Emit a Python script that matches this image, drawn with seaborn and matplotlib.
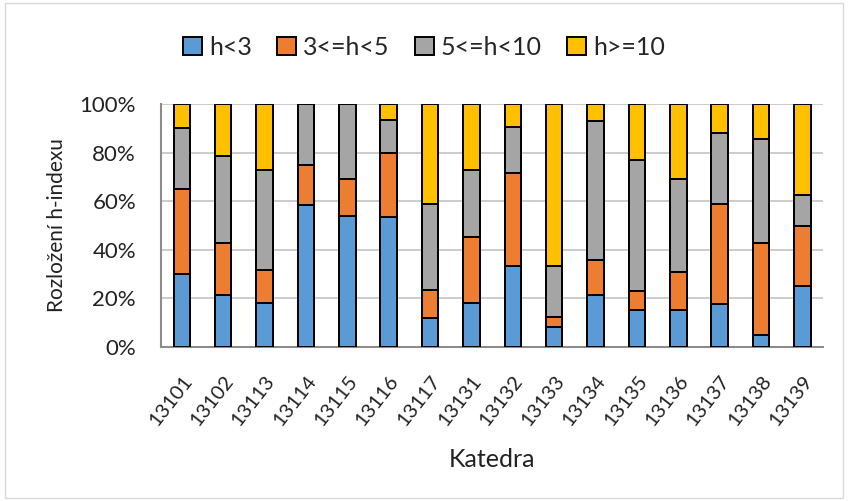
import seaborn as sns
import matplotlib.pyplot as plt
import matplotlib.patches as mpatches
from matplotlib.ticker import PercentFormatter
import numpy as np
import pandas as pd

katedry = ['13101', '13102', '13113', '13114', '13115', '13116', '13117', '13131',
           '13132', '13133', '13134', '13135', '13136', '13137', '13138', '13139']
h_lt3 = [30, 21.4, 18.2, 58.3, 53.8, 53.3, 11.8, 18.2, 33.3, 8.3, 21.4, 15.4, 15.4, 17.6, 4.8, 25]
h_3_5 = [35, 21.4, 13.6, 16.7, 15.4, 26.7, 11.8, 27.3, 38.1, 4.2, 14.3, 7.7, 15.4, 41.2, 38.1, 25]
h_5_10 = [25, 35.7, 40.9, 25, 30.8, 13.3, 35.3, 27.3, 19.0, 20.8, 57.1, 53.8, 38.5, 29.4, 42.9, 12.5]
h_ge10 = [10, 21.4, 27.3, 0, 0, 6.7, 41.2, 27.3, 9.5, 66.7, 7.1, 23.1, 30.8, 11.8, 14.3, 37.5]

skupiny = ['h<3', '3<=h<5', '5<=h<10', 'h>=10']
barvy = ['#5B9BD5', '#ED7D31', '#A5A5A5', '#FFC000']

data = pd.DataFrame({'Katedra': katedry, 'h<3': h_lt3, '3<=h<5': h_3_5,
                     '5<=h<10': h_5_10, 'h>=10': h_ge10})
data[skupiny] = data[skupiny].div(data[skupiny].sum(axis=1), axis=0)
kum = data[skupiny].cumsum(axis=1)

sns.set_style('white')
plt.rcParams['font.family'] = ['Lato', 'DejaVu Sans']

fig = plt.figure(figsize=(8.48, 5.01), dpi=100)
ax = fig.add_axes([0.190, 0.3074, 0.7806, 0.485])

# vrstvy od nejvyssi kumulativni hodnoty dolu
for s, c in reversed(list(zip(skupiny, barvy))):
    sns.barplot(x=data['Katedra'], y=kum[s], color=c, saturation=1, width=0.4,
                edgecolor='black', linewidth=1.4, ax=ax, zorder=3)

ax.set_ylim(0, 1)
ax.yaxis.set_major_formatter(PercentFormatter(1.0, decimals=0))
ax.set_yticks(np.arange(0, 1.01, 0.2))
ax.grid(axis='y', color='#C8C8C8', linewidth=1.3, zorder=0)
ax.set_axisbelow(True)
for sp in ['top', 'right']:
    ax.spines[sp].set_visible(False)
for sp in ['left', 'bottom']:
    ax.spines[sp].set_color('#8C8C8C')
    ax.spines[sp].set_linewidth(1.5)
ax.tick_params(axis='y', length=0, labelsize=16, colors='#222222', pad=18)
ax.tick_params(axis='x', length=0, labelsize=14.5, colors='#222222', pad=18)
plt.setp(ax.get_xticklabels(), rotation=52, ha='right', rotation_mode='anchor')
ax.set_xlabel('Katedra', fontsize=18, color='#222222', labelpad=14)
ax.set_ylabel('Rozložení h-indexu', fontsize=15, color='#222222', labelpad=9)

handles = [mpatches.Patch(facecolor=c, edgecolor='black', linewidth=1.4, label=s)
           for s, c in zip(skupiny, barvy)]
fig.legend(handles=handles, loc='center', bbox_to_anchor=(0.5, 0.906), ncol=4,
           frameon=False, fontsize=18, handlelength=0.75, handleheight=0.75,
           handletextpad=0.3, columnspacing=1.0)

fig.patches.append(mpatches.Rectangle((0.006, 0.006), 0.988, 0.988, transform=fig.transFigure,
                                      fill=False, edgecolor='#D9D9D9', linewidth=1))

fig.savefig('out.png', dpi=100)
